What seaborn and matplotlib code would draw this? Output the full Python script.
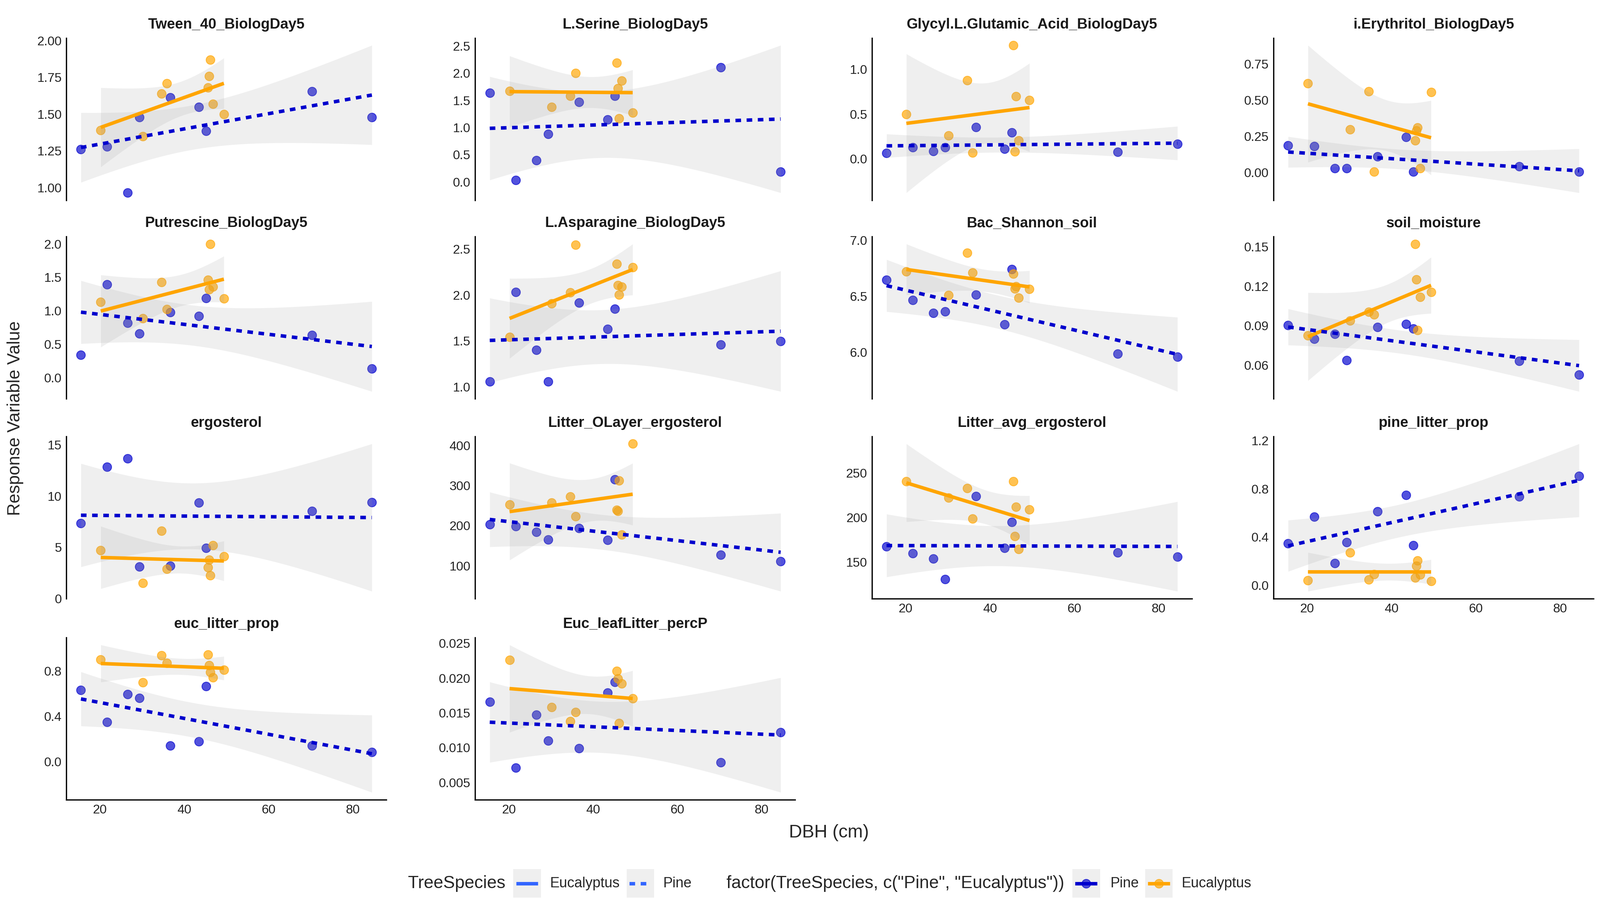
import numpy as np
import pandas as pd
import matplotlib
matplotlib.use("Agg")
import matplotlib.pyplot as plt
import seaborn as sns
from matplotlib.patches import Rectangle
from matplotlib.lines import Line2D

# ---------------- data ----------------
pine_dbh = [15.5, 21.7, 26.6, 29.4, 36.7, 43.5, 45.2, 70.3, 84.5]
euc_dbh = [20.2, 30.2, 34.6, 35.9, 45.6, 45.9, 46.2, 46.8, 49.4]

panel_names = ["Tween_40_BiologDay5", "L.Serine_BiologDay5", "Glycyl.L.Glutamic_Acid_BiologDay5",
               "i.Erythritol_BiologDay5", "Putrescine_BiologDay5", "L.Asparagine_BiologDay5",
               "Bac_Shannon_soil", "soil_moisture", "ergosterol", "Litter_OLayer_ergosterol",
               "Litter_avg_ergosterol", "pine_litter_prop", "euc_litter_prop", "Euc_leafLitter_percP"]

tween_pine = [1.26, 1.28, 0.965, 1.48, 1.615, 1.55, 1.385, 1.655, 1.48]
tween_euc = [1.39, 1.35, 1.64, 1.71, 1.68, 1.76, 1.87, 1.57, 1.50]
serine_pine = [1.64, 0.03, 0.40, 0.88, 1.47, 1.15, 1.58, 2.11, 0.19]
serine_euc = [1.67, 1.38, 1.58, 2.00, 2.19, 1.72, 1.17, 1.86, 1.27]
glycyl_pine = [0.065, 0.13, 0.087, 0.13, 0.353, 0.11, 0.294, 0.077, 0.165]
glycyl_euc = [0.50, 0.26, 0.88, 0.07, 1.27, 0.08, 0.70, 0.205, 0.656]
erythritol_pine = [0.187, 0.182, 0.027, 0.027, 0.11, 0.245, 0.005, 0.04, 0.005]
erythritol_euc = [0.616, 0.296, 0.561, 0.005, 0.22, 0.29, 0.31, 0.027, 0.556]
putrescine_pine = [0.34, 1.395, 0.82, 0.66, 0.98, 0.92, 1.19, 0.635, 0.135]
putrescine_euc = [1.13, 0.886, 1.43, 1.024, 1.46, 1.32, 2.0, 1.36, 1.185]
asparagine_pine = [1.056, 2.03, 1.40, 1.056, 1.917, 1.627, 1.847, 1.457, 1.496]
asparagine_euc = [1.543, 1.906, 2.026, 2.546, 2.34, 2.106, 2.003, 2.088, 2.30]
shannon_pine = [6.647, 6.465, 6.35, 6.365, 6.515, 6.247, 6.743, 5.985, 5.96]
shannon_euc = [6.72, 6.51, 6.89, 6.71, 6.70, 6.57, 6.588, 6.485, 6.565]
moisture_pine = [0.0903, 0.0801, 0.0838, 0.064, 0.089, 0.0913, 0.0877, 0.0634, 0.053]
moisture_euc = [0.0826, 0.094, 0.1004, 0.0986, 0.152, 0.125, 0.0867, 0.1117, 0.1155]
ergosterol_pine = [7.35, 12.85, 13.65, 3.1, 3.2, 9.35, 4.94, 8.55, 9.4]
ergosterol_euc = [4.72, 1.52, 6.6, 2.88, 3.03, 3.77, 2.26, 5.2, 4.1]
olayer_pine = [203, 198, 184, 165, 194, 164, 315, 127, 111]
olayer_euc = [252, 257, 272, 223, 239, 236, 312, 177, 404]
litteravg_pine = [167.5, 160, 154, 130.7, 223.8, 166, 195, 160.6, 156.2]
litteravg_euc = [240.7, 222, 233, 198.8, 240.4, 179, 212, 164.7, 209]
pinelitter_pine = [0.347, 0.569, 0.182, 0.356, 0.612, 0.75, 0.332, 0.735, 0.907]
pinelitter_euc = [0.041, 0.271, 0.047, 0.09, 0.063, 0.16, 0.206, 0.087, 0.036]
euclitter_pine = [0.63, 0.35, 0.593, 0.56, 0.14, 0.177, 0.663, 0.14, 0.085]
euclitter_euc = [0.90, 0.697, 0.936, 0.87, 0.944, 0.85, 0.79, 0.74, 0.807]
leafP_pine = [0.0166, 0.0071, 0.0147, 0.011, 0.0099, 0.0179, 0.0194, 0.0079, 0.0122]
leafP_euc = [0.0226, 0.0158, 0.0138, 0.0151, 0.0210, 0.0199, 0.0135, 0.0192, 0.0171]

ytick_labels = [
    ["1.00", "1.25", "1.50", "1.75", "2.00"],
    ["0.0", "0.5", "1.0", "1.5", "2.0", "2.5"],
    ["0.0", "0.5", "1.0"],
    ["0.00", "0.25", "0.50", "0.75"],
    ["0.0", "0.5", "1.0", "1.5", "2.0"],
    ["1.0", "1.5", "2.0", "2.5"],
    ["6.0", "6.5", "7.0"],
    ["0.06", "0.09", "0.12", "0.15"],
    ["0", "5", "10", "15"],
    ["100", "200", "300", "400"],
    ["150", "200", "250"],
    ["0.0", "0.4", "0.8", "1.2"],
    ["0.0", "0.4", "0.8"],
    ["0.005", "0.010", "0.015", "0.020", "0.025"],
]
xtick_labels = ["20", "40", "60", "80"]

pine_series = [tween_pine, serine_pine, glycyl_pine, erythritol_pine, putrescine_pine, asparagine_pine,
               shannon_pine, moisture_pine, ergosterol_pine, olayer_pine, litteravg_pine,
               pinelitter_pine, euclitter_pine, leafP_pine]
euc_series = [tween_euc, serine_euc, glycyl_euc, erythritol_euc, putrescine_euc, asparagine_euc,
              shannon_euc, moisture_euc, ergosterol_euc, olayer_euc, litteravg_euc,
              pinelitter_euc, euclitter_euc, leafP_euc]

rows = []
for name, pv, ev in zip(panel_names, pine_series, euc_series):
    for x, y in zip(pine_dbh, pv):
        rows.append((name, "Pine", x, y))
    for x, y in zip(euc_dbh, ev):
        rows.append((name, "Eucalyptus", x, y))
df = pd.DataFrame(rows, columns=["Variable", "TreeSpecies", "DBH", "Value"])

# ---------------- style ----------------
sns.set_theme(style="white")
plt.rcParams["font.family"] = ["Liberation Sans", "DejaVu Sans"]

PINE = "#0000CD"
EUC = "#FFA500"
BAND = "#999999"
T975 = 2.3646  # t quantile, df = 7

fig = plt.figure(figsize=(14, 8), dpi=300)

lefts = [0.0415, 0.297, 0.545, 0.796]
bottoms = [0.781, 0.5636, 0.345, 0.125]
W, H = 0.2, 0.1775

all_x = np.array(pine_dbh + euc_dbh)
xr = all_x.max() - all_x.min()
xlim = (all_x.min() - 0.05 * xr, all_x.max() + 0.05 * xr)

bottom_panels = {10, 11, 12, 13}


def band(ax, x, y):
    x = np.asarray(x, float)
    y = np.asarray(y, float)
    n = len(x)
    b1, b0 = np.polyfit(x, y, 1)
    res = y - (b0 + b1 * x)
    s = np.sqrt(np.sum(res ** 2) / (n - 2))
    xm = x.mean()
    sxx = np.sum((x - xm) ** 2)
    xs = np.linspace(x.min(), x.max(), 120)
    fit = b0 + b1 * xs
    se = s * np.sqrt(1.0 / n + (xs - xm) ** 2 / sxx)
    ax.fill_between(xs, fit - T975 * se, fit + T975 * se, color=BAND, alpha=0.15, linewidth=0, zorder=2)
    return (fit - T975 * se).min(), (fit + T975 * se).max()


for i, name in enumerate(panel_names):
    r, c = divmod(i, 4)
    ax = fig.add_axes([lefts[c], bottoms[r], W, H])
    sub = df[df["Variable"] == name]
    sp = sub[sub["TreeSpecies"] == "Pine"]
    se_ = sub[sub["TreeSpecies"] == "Eucalyptus"]

    sns.scatterplot(data=sp, x="DBH", y="Value", ax=ax, color=PINE, alpha=0.68, s=30,
                    edgecolor=PINE, linewidth=0.5, zorder=1, legend=False)
    sns.scatterplot(data=se_, x="DBH", y="Value", ax=ax, color=EUC, alpha=0.68, s=30,
                    edgecolor=EUC, linewidth=0.5, zorder=1, legend=False)
    lo1, hi1 = band(ax, sp["DBH"], sp["Value"])
    lo2, hi2 = band(ax, se_["DBH"], se_["Value"])
    sns.regplot(data=se_, x="DBH", y="Value", ax=ax, scatter=False, ci=None, truncate=True,
                line_kws=dict(color=EUC, lw=2.2, solid_capstyle="butt", zorder=4))
    sns.regplot(data=sp, x="DBH", y="Value", ax=ax, scatter=False, ci=None, truncate=True,
                line_kws=dict(color=PINE, lw=2.2, linestyle=(0, (1.6, 1.6)), dash_capstyle="butt", zorder=5))

    vals = sub["Value"].values
    ymin = min(vals.min(), lo1, lo2)
    ymax = max(vals.max(), hi1, hi2)
    yr = ymax - ymin
    ax.set_ylim(ymin - 0.05 * yr, ymax + 0.05 * yr)
    ax.set_xlim(*xlim)

    labs = ytick_labels[i]
    ax.set_yticks([float(v) for v in labs])
    ax.set_yticklabels(labs)
    ax.set_xticks([float(v) for v in xtick_labels])
    ax.tick_params(axis="both", length=0, labelsize=8, colors="#222222", pad=3)
    ax.set_xlabel("")
    ax.set_ylabel("")
    ax.set_title(name, fontsize=9.2, fontweight="bold", pad=6, color="#1a1a1a")
    for s in ["top", "right"]:
        ax.spines[s].set_visible(False)
    ax.spines["left"].set_color("black")
    ax.spines["left"].set_linewidth(0.8)
    if i in bottom_panels:
        ax.set_xticklabels(xtick_labels)
        ax.spines["bottom"].set_color("black")
        ax.spines["bottom"].set_linewidth(0.8)
    else:
        ax.set_xticklabels([])
        ax.spines["bottom"].set_visible(False)
    ax.grid(False)

fig.text(0.0096, 0.5425, "Response Variable Value", rotation=90, ha="center", va="center", fontsize=11)
fig.text(0.518, 0.089, "DBH (cm)", ha="center", va="center", fontsize=11.5)

# ---------------- legend ----------------
yc = 0.0335
kh = 0.03125
kw = 0.0172
FS = 9


def key(x0):
    fig.add_artist(Rectangle((x0, yc - kh / 2), kw, kh, transform=fig.transFigure,
                             facecolor="#EFEFEF", edgecolor="none"))


def key_line(x0, color, ls="-"):
    fig.add_artist(Line2D([x0 + 0.1 * kw, x0 + 0.9 * kw], [yc, yc], transform=fig.transFigure,
                          color=color, lw=2.2, linestyle=ls, solid_capstyle="butt", dash_capstyle="butt"))


def key_point(x0, color):
    fig.add_artist(Line2D([x0 + kw / 2], [yc], transform=fig.transFigure, marker="o", markersize=5.5,
                          color=color, alpha=0.68, markeredgewidth=0.5, linestyle="none"))


fig.text(0.2551, yc, "TreeSpecies", ha="left", va="center", fontsize=11)
key(0.3208)
key_line(0.3208, "#3366FF")
fig.text(0.3438, yc, "Eucalyptus", ha="left", va="center", fontsize=FS)
key(0.3916)
key_line(0.3916, "#3366FF", (0, (1.6, 1.6)))
fig.text(0.4145, yc, "Pine", ha="left", va="center", fontsize=FS)

fig.text(0.4541, yc, 'factor(TreeSpecies, c("Pine", "Eucalyptus"))', ha="left", va="center", fontsize=11)
key(0.6703)
key_line(0.6703, PINE)
key_point(0.6703, PINE)
fig.text(0.6939, yc, "Pine", ha="left", va="center", fontsize=FS)
key(0.7156)
key_line(0.7156, EUC)
key_point(0.7156, EUC)
fig.text(0.7385, yc, "Eucalyptus", ha="left", va="center", fontsize=FS)

fig.savefig("out.png", dpi=300, facecolor="white")
